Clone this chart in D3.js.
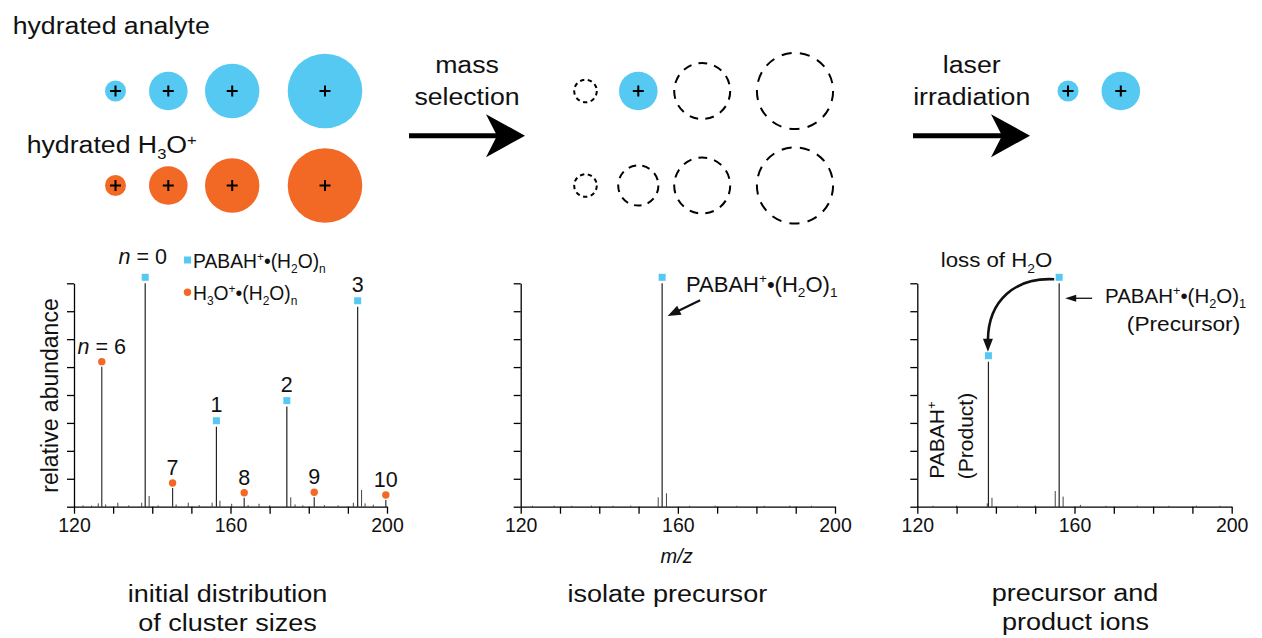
<!DOCTYPE html>
<html>
<head>
<meta charset="utf-8">
<script src="https://cdn.jsdelivr.net/npm/d3@7"></script>
<style>
body { margin: 0; background: #fff; }
svg { display: block; font-family: "Liberation Sans", Arial, sans-serif; }
</style>
</head>
<body>
<svg width="1262" height="638"></svg>
<script>
// ---- data ----
var mzTicks = [120, 130, 140, 150, 160, 170, 180, 190, 200];
var mzLabels = [120, 160, 200];
var abundTicks = [0, 12.5, 25, 37.5, 50, 62.5, 75, 87.5, 100];

// panel 1: initial distribution
var pabahN = [0, 1, 2, 3];
var pabahMz = [138.2, 156.4, 174.4, 192.5];
var pabahAbund = [100, 35.8, 44.8, 89.5];

var h3oN = [6, 7, 8, 9, 10];
var h3oMz = [127.1, 145.2, 163.5, 181.4, 199.7];
var h3oAbund = [62.7, 8.4, 4.0, 4.2, 3.0];

var minor1Mz = [122.3, 124.5, 126.2, 128.1, 131.2, 134.0, 137.3, 139.2, 141.5, 146.1, 149.2, 152.0, 155.3, 157.3, 160.3, 164.5, 167.3, 170.0, 175.4, 176.5, 178.5, 184.0, 187.5, 191.4, 193.5, 194.4, 196.5];
var minor1Abund = [0.6, 0.5, 1.5, 1.0, 1.8, 0.6, 1.8, 4.8, 0.6, 1.0, 1.8, 0.7, 1.8, 2.7, 1.3, 0.7, 1.3, 0.6, 4.2, 1.0, 0.6, 0.7, 0.6, 1.8, 7.5, 1.5, 0.9];

// panel 2: isolate precursor
var isoMz = [156.0];
var isoAbund = [100];
var minor2Mz = [123.0, 128.5, 133.0, 138.0, 143.5, 148.0, 155.0, 157.1, 163.0, 169.5, 175.0, 182.0, 188.5, 194.0];
var minor2Abund = [0.4, 0.5, 0.4, 0.5, 0.4, 0.5, 4.2, 6.0, 0.4, 0.5, 0.4, 0.4, 0.5, 0.4];

// panel 3: precursor and product
var prodMz = [138.1, 156.1];
var prodAbund = [64.9, 100];
var minor3Mz = [124.0, 130.0, 137.8, 139.0, 145.5, 150.0, 155.1, 157.1, 161.5, 168.0, 176.0, 184.0, 191.0, 197.0];
var minor3Abund = [0.4, 0.5, 1.5, 4.0, 0.4, 0.5, 7.0, 4.5, 0.8, 0.4, 0.4, 0.4, 0.5, 0.4];

// cluster cartoon: 4 sizes in each row
var clusterRadius = [10.5, 19.3, 27.2, 37.3];

var blue = "#55C9F2", orange = "#F26825";

var svg = d3.select("svg");

// ---- text helpers ----
function rich(g, parts, size) {
    var t = g.append("text").attr("font-size", size).attr("fill", "#111");
    var shift = 0;
    parts.forEach(function (p) {
        var target = p[1] == "sup" ? -0.38 * size : p[1] == "sub" ? 0.26 * size : 0;
        var ts = t.append("tspan").attr("dy", target - shift).text(p[0]);
        if (p[1]) ts.attr("font-size", size * 0.62);
        shift = target;
    });
    return t;
}

// text drawn with a horizontal stretch (the figure's captions are wider than Arial)
function label(x, y, parts, size, anchor, sx, rot) {
    var g = svg.append("g")
        .attr("transform", "translate(" + x + "," + y + ")" + (rot ? " rotate(" + rot + ")" : "") + " scale(" + (sx || 1) + ",1)");
    if (typeof parts == "string") parts = [[parts, ""]];
    return rich(g, parts, size).attr("text-anchor", anchor || "start");
}

function arrow(x1, y1, x2, y2, len, half, width) {
    var a = Math.atan2(y2 - y1, x2 - x1), c = Math.cos(a), s = Math.sin(a);
    var bx = x2 - len * c, by = y2 - len * s;
    svg.append("line").attr("x1", x1).attr("y1", y1).attr("x2", bx + 2 * c).attr("y2", by + 2 * s)
        .attr("stroke", "#111").attr("stroke-width", width);
    svg.append("path")
        .attr("d", "M" + x2 + "," + y2 + "L" + (bx - half * s) + "," + (by + half * c) + "L" + (bx + half * s) + "," + (by - half * c) + "Z")
        .attr("fill", "#111");
}

function bigArrow(x0, x1, y) {
    svg.append("line").attr("x1", x0).attr("y1", y).attr("x2", x1 - 26).attr("y2", y)
        .attr("stroke", "#000").attr("stroke-width", 5);
    svg.append("path")
        .attr("d", "M" + x1 + "," + y + "L" + (x1 - 39) + "," + (y - 21.5) + "L" + (x1 - 28) + "," + y + "L" + (x1 - 39) + "," + (y + 21.5) + "Z")
        .attr("fill", "#000");
}

function plus(x, y) {
    svg.append("path")
        .attr("d", "M" + (x - 5.5) + "," + y + "H" + (x + 5.5) + "M" + x + "," + (y - 5.5) + "V" + (y + 5.5))
        .attr("stroke", "#000").attr("stroke-width", 2);
}

// ---- cluster cartoons ----
var slotX = d3.scaleOrdinal().domain([0, 1, 2, 3]).range([115.5, 168.3, 232.2, 325]);
var groupShift = [0, 470, 952.5];
var rowY = [91, 185.5];
// state per group / row: "f" filled, "d" dashed, "" nothing
var state = [
    [["f", "f", "f", "f"], ["f", "f", "f", "f"]],
    [["d", "f", "d", "d"], ["d", "d", "d", "d"]],
    [["f", "f", "", ""], ["", "", "", ""]]
];

state.forEach(function (grp, gi) {
    grp.forEach(function (row, ri) {
        row.forEach(function (st, k) {
            if (!st) return;
            var cx = slotX(k) + groupShift[gi], cy = rowY[ri], r = clusterRadius[k];
            if (st == "f") {
                svg.append("circle").attr("cx", cx).attr("cy", cy).attr("r", r)
                    .attr("fill", ri == 0 ? blue : orange);
                plus(cx, cy);
            } else {
                var rr = r + 0.8, circ = 2 * Math.PI * rr;
                var n = k == 0 ? 9 : k == 1 ? 9 : k == 2 ? 11 : 13;
                var per = circ / n;
                svg.append("circle").attr("cx", cx).attr("cy", cy).attr("r", rr)
                    .attr("fill", "none").attr("stroke", "#000").attr("stroke-width", 2)
                    .attr("stroke-dasharray", (per * 0.55) + " " + (per * 0.45));
            }
        });
    });
});

label(12.7, 34.3, "hydrated analyte", 23, "start", 1.16);
label(26.7, 153.3, [["hydrated H", ""], ["3", "sub"], ["O", ""], ["+", "sup"]], 23, "start", 1.16);
label(467, 73.3, "mass", 23, "middle", 1.16);
label(467, 105, "selection", 23, "middle", 1.16);
label(971.7, 73.3, "laser", 23, "middle", 1.16);
label(971.7, 105, "irradiation", 23, "middle", 1.16);

bigArrow(409, 525, 135.7);
bigArrow(913, 1030, 135.7);

// ---- spectra ----
var panels = [[74, 387], [520.7, 835], [917.3, 1231.7]];
var ys = d3.scaleLinear().domain([0, 100]).range([506.7, 283.3]);
var xsList = panels.map(function (p) {
    return d3.scaleLinear().domain([120, 200]).range(p);
});

function drawAxes(xs) {
    var gy = svg.append("g").attr("transform", "translate(" + xs.range()[0] + ",0)")
        .call(d3.axisLeft(ys).tickValues(abundTicks).tickSize(7).tickSizeOuter(0).tickFormat(""));
    gy.selectAll("path,line").attr("stroke", "#000").attr("stroke-width", 1.3);

    var gx = svg.append("g").attr("transform", "translate(0," + ys(0) + ")")
        .call(d3.axisBottom(xs).tickValues(mzTicks).tickSize(7).tickSizeOuter(0).tickPadding(4)
            .tickFormat(function (d) { return mzLabels.indexOf(d) >= 0 ? d : ""; }));
    gx.selectAll("path,line").attr("stroke", "#000").attr("stroke-width", 1.3);
    gx.selectAll("text").attr("font-size", 19.5).attr("fill", "#111")
        .attr("font-family", "Liberation Sans, Arial, sans-serif");
}

function sticks(xs, mz, ab, width, color) {
    svg.append("g").selectAll("line")
        .data(mz.map(function (m, i) { return [m, ab[i]]; }))
        .enter().append("line")
        .attr("x1", function (d) { return xs(d[0]); })
        .attr("x2", function (d) { return xs(d[0]); })
        .attr("y1", ys(0))
        .attr("y2", function (d) { return ys(d[1]); })
        .attr("stroke", color).attr("stroke-width", width);
}

function squares(xs, mz, ab) {
    svg.append("g").selectAll("rect")
        .data(mz.map(function (m, i) { return [m, ab[i]]; }))
        .enter().append("rect")
        .attr("x", function (d) { return xs(d[0]) - 3.5; })
        .attr("y", function (d) { return ys(d[1]) - 9.5; })
        .attr("width", 7).attr("height", 7)
        .attr("fill", blue);
}

function dots(xs, mz, ab) {
    svg.append("g").selectAll("circle")
        .data(mz.map(function (m, i) { return [m, ab[i]]; }))
        .enter().append("circle")
        .attr("cx", function (d) { return xs(d[0]); })
        .attr("cy", function (d) { return ys(d[1]) - 5; })
        .attr("r", 3.7)
        .attr("fill", orange);
}

// panel 1
var x1 = xsList[0];
sticks(x1, minor1Mz, minor1Abund, 1, "#444");
sticks(x1, pabahMz, pabahAbund, 1.2, "#222");
sticks(x1, h3oMz, h3oAbund, 1.2, "#333");
drawAxes(x1);
squares(x1, pabahMz, pabahAbund);
dots(x1, h3oMz, h3oAbund);

pabahN.forEach(function (n, i) {
    var t = n == 0 ? [["n", "it"], [" = 0", ""]] : String(n);
    var el = label(x1(pabahMz[i]) - (n == 0 ? 2.5 : 0), ys(pabahAbund[i]) - (n == 0 ? 19.5 : 14.5), t, 21.5, "middle");
    el.selectAll("tspan").filter(function (d, j) { return (n == 0) && j == 0; })
        .attr("font-style", "italic").attr("font-size", 21.5).attr("dy", 0);
});
h3oN.forEach(function (n, i) {
    var t = n == 6 ? [["n", "it"], [" = 6", ""]] : String(n);
    var el = label(x1(h3oMz[i]), ys(h3oAbund[i]) - 13, t, 21.5, "middle");
    el.selectAll("tspan").filter(function (d, j) { return (n == 6) && j == 0; })
        .attr("font-style", "italic").attr("font-size", 21.5).attr("dy", 0);
});

// legend
svg.append("rect").attr("x", 184).attr("y", 256.5).attr("width", 7).attr("height", 7).attr("fill", blue);
label(193, 268.3, [["PABAH", ""], ["+", "sup"], ["\u2022(H", ""], ["2", "sub"], ["O)", ""], ["n", "sub"]], 19.3);
svg.append("circle").attr("cx", 187.5).attr("cy", 292.3).attr("r", 3.7).attr("fill", orange);
label(193, 300, [["H", ""], ["3", "sub"], ["O", ""], ["+", "sup"], ["\u2022(H", ""], ["2", "sub"], ["O)", ""], ["n", "sub"]], 19.3);

label(57.5, 395.5, "relative abundance", 23, "middle", 1, -90);

// panel 2
var x2 = xsList[1];
sticks(x2, minor2Mz, minor2Abund, 1, "#444");
sticks(x2, isoMz, isoAbund, 1.2, "#222");
drawAxes(x2);
squares(x2, isoMz, isoAbund);
label(686, 291.7, [["PABAH", ""], ["+", "sup"], ["\u2022(H", ""], ["2", "sub"], ["O)", ""], ["1", "sub"]], 22);
arrow(x2(isoMz[0]) + 38, ys(92.4), x2(isoMz[0]) + 5.5, ys(85.4), 13, 5, 2.2);
label(676.7, 563, "m/z", 20, "middle").attr("font-style", "italic");

// panel 3
var x3 = xsList[2];
sticks(x3, minor3Mz, minor3Abund, 1, "#444");
sticks(x3, prodMz, prodAbund, 1.2, "#222");
drawAxes(x3);
squares(x3, prodMz, prodAbund);
label(940.7, 267.3, [["loss of H", ""], ["2", "sub"], ["O", ""]], 21, "start", 1.06);
var pxA = x3(prodMz[1]), pxB = x3(prodMz[0]);
svg.append("path")
    .attr("d", "M" + (pxA - 5) + "," + (ys(100) - 4) + " C" + (pxA - 44) + "," + (ys(100) - 6) + " " + (pxB) + "," + (ys(100) + 17) + " " + (pxB - 0.5) + "," + (ys(64.9) - 22))
    .attr("fill", "none").attr("stroke", "#111").attr("stroke-width", 2.6);
svg.append("path")
    .attr("d", "M" + (pxB - 0.5) + "," + (ys(64.9) - 10) + "L" + (pxB - 5.5) + "," + (ys(64.9) - 23) + "L" + (pxB + 4.5) + "," + (ys(64.9) - 23) + "Z")
    .attr("fill", "#111");
label(1105, 303, [["PABAH", ""], ["+", "sup"], ["\u2022(H", ""], ["2", "sub"], ["O)", ""], ["1", "sub"]], 20.5);
label(1183.5, 330.5, "(Precursor)", 21, "middle", 1.08);
arrow(pxA + 33, ys(93.3), pxA + 6, ys(93.3), 11, 3.5, 1.3);
label(944, 440, [["PABAH", ""], ["+", "sup"]], 21, "middle", 1, -90);
label(973, 436, "(Product)", 21, "middle", 1, -90);

// captions
label(227.5, 601.7, "initial distribution", 23.3, "middle", 1.16);
label(227.5, 631, "of cluster sizes", 23.3, "middle", 1.16);
label(667.3, 601.7, "isolate precursor", 23.3, "middle", 1.16);
label(1075, 601, "precursor and", 23.3, "middle", 1.16);
label(1075.5, 630, "product ions", 23.3, "middle", 1.16);
</script>
</body>
</html>
